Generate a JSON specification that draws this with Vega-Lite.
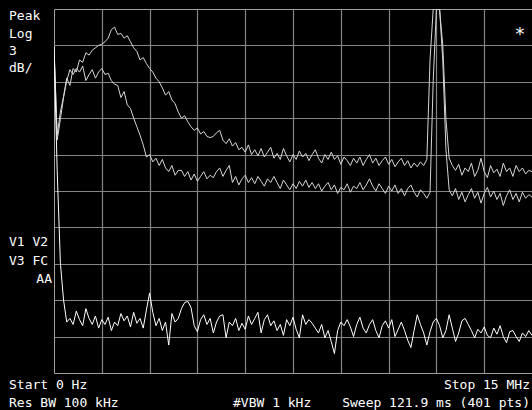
{
  "$schema": "https://vega.github.io/schema/vega-lite/v6.json",
  "autosize": {"type": "none"},
  "width": 478,
  "height": 364,
  "padding": {"left": 54, "top": 9, "right": 0, "bottom": 37},
  "background": "#000000",
  "config": {
    "view": {"stroke": "#a0a0a0", "strokeWidth": 1},
    "text": {"font": "DejaVu Sans Mono", "fontSize": 13, "fill": "#ffffff", "baseline": "middle"}
  },
  "layer": [
    {
      "data": {"values": [
        {"f":0.0,"a":-3.1,"b":-3.1,"c":-3.1},
        {"f":0.1,"a":-10.4,"b":-10.8,"c":-13.3},
        {"f":0.2,"a":-8.5,"b":-9.1,"c":-20.9},
        {"f":0.3,"a":-7.2,"b":-7.3,"c":-24.0},
        {"f":0.4,"a":-5.7,"b":-5.9,"c":-25.8},
        {"f":0.5,"a":-6.3,"b":-5.0,"c":-25.5},
        {"f":0.6,"a":-4.9,"b":-5.4,"c":-26.0},
        {"f":0.7,"a":-5.2,"b":-4.9,"c":-24.9},
        {"f":0.8,"a":-4.2,"b":-5.2,"c":-25.6},
        {"f":0.9,"a":-4.4,"b":-4.7,"c":-26.1},
        {"f":1.0,"a":-3.6,"b":-5.9,"c":-24.7},
        {"f":1.1,"a":-3.8,"b":-5.4,"c":-25.5},
        {"f":1.2,"a":-3.4,"b":-5.0,"c":-26.0},
        {"f":1.3,"a":-3.2,"b":-5.7,"c":-25.3},
        {"f":1.4,"a":-3.0,"b":-5.2,"c":-26.3},
        {"f":1.5,"a":-2.9,"b":-4.9,"c":-25.6},
        {"f":1.6,"a":-2.7,"b":-5.4,"c":-26.0},
        {"f":1.7,"a":-2.4,"b":-5.3,"c":-25.4},
        {"f":1.8,"a":-1.7,"b":-5.9,"c":-26.5},
        {"f":1.9,"a":-1.5,"b":-6.2,"c":-25.8},
        {"f":2.0,"a":-2.1,"b":-6.3,"c":-26.1},
        {"f":2.1,"a":-2.0,"b":-7.3,"c":-25.1},
        {"f":2.2,"a":-2.4,"b":-6.8,"c":-25.7},
        {"f":2.3,"a":-2.2,"b":-7.9,"c":-25.3},
        {"f":2.4,"a":-2.7,"b":-8.2,"c":-26.2},
        {"f":2.5,"a":-3.2,"b":-9.0,"c":-25.0},
        {"f":2.6,"a":-3.5,"b":-9.7,"c":-25.9},
        {"f":2.7,"a":-4.2,"b":-10.4,"c":-25.5},
        {"f":2.8,"a":-4.0,"b":-11.2,"c":-26.3},
        {"f":2.9,"a":-4.5,"b":-12.2,"c":-24.8},
        {"f":3.0,"a":-4.9,"b":-12.0,"c":-23.4},
        {"f":3.1,"a":-5.2,"b":-12.6,"c":-25.0},
        {"f":3.2,"a":-5.7,"b":-12.3,"c":-26.1},
        {"f":3.3,"a":-6.0,"b":-12.9,"c":-25.5},
        {"f":3.4,"a":-6.5,"b":-12.4,"c":-26.5},
        {"f":3.5,"a":-7.1,"b":-13.1,"c":-25.8},
        {"f":3.6,"a":-6.8,"b":-13.4,"c":-27.7},
        {"f":3.7,"a":-7.5,"b":-12.9,"c":-25.1},
        {"f":3.8,"a":-7.8,"b":-13.7,"c":-25.8},
        {"f":3.9,"a":-8.5,"b":-13.3,"c":-25.5},
        {"f":4.0,"a":-9.0,"b":-13.3,"c":-24.7},
        {"f":4.1,"a":-8.8,"b":-13.8,"c":-24.2},
        {"f":4.2,"a":-9.3,"b":-13.4,"c":-24.1},
        {"f":4.3,"a":-9.7,"b":-14.1,"c":-24.6},
        {"f":4.4,"a":-10.0,"b":-13.6,"c":-26.1},
        {"f":4.5,"a":-9.8,"b":-14.2,"c":-26.6},
        {"f":4.6,"a":-10.3,"b":-13.8,"c":-25.6},
        {"f":4.7,"a":-10.1,"b":-13.4,"c":-25.2},
        {"f":4.8,"a":-10.5,"b":-14.0,"c":-26.0},
        {"f":4.9,"a":-10.6,"b":-13.7,"c":-25.5},
        {"f":5.0,"a":-10.5,"b":-13.9,"c":-26.7},
        {"f":5.1,"a":-10.2,"b":-13.4,"c":-25.8},
        {"f":5.2,"a":-10.0,"b":-13.1,"c":-25.3},
        {"f":5.3,"a":-10.8,"b":-13.8,"c":-25.2},
        {"f":5.4,"a":-11.1,"b":-13.3,"c":-27.1},
        {"f":5.5,"a":-10.7,"b":-12.9,"c":-25.8},
        {"f":5.6,"a":-11.3,"b":-14.3,"c":-26.1},
        {"f":5.7,"a":-11.0,"b":-13.8,"c":-25.5},
        {"f":5.8,"a":-11.6,"b":-14.5,"c":-26.5},
        {"f":5.9,"a":-11.4,"b":-14.0,"c":-25.9},
        {"f":6.0,"a":-11.8,"b":-13.7,"c":-26.4},
        {"f":6.1,"a":-11.2,"b":-14.3,"c":-25.3},
        {"f":6.2,"a":-12.0,"b":-13.9,"c":-26.0},
        {"f":6.3,"a":-11.6,"b":-14.4,"c":-25.5},
        {"f":6.4,"a":-12.1,"b":-13.8,"c":-25.0},
        {"f":6.5,"a":-11.5,"b":-14.2,"c":-26.7},
        {"f":6.6,"a":-12.2,"b":-14.6,"c":-25.6},
        {"f":6.7,"a":-11.8,"b":-14.0,"c":-25.2},
        {"f":6.8,"a":-11.4,"b":-14.3,"c":-26.1},
        {"f":6.9,"a":-12.3,"b":-13.8,"c":-25.7},
        {"f":7.0,"a":-11.9,"b":-14.3,"c":-26.5},
        {"f":7.1,"a":-12.4,"b":-14.8,"c":-26.0},
        {"f":7.2,"a":-11.5,"b":-14.1,"c":-26.9},
        {"f":7.3,"a":-12.1,"b":-14.5,"c":-25.6},
        {"f":7.4,"a":-12.6,"b":-14.9,"c":-26.1},
        {"f":7.5,"a":-12.0,"b":-14.4,"c":-25.4},
        {"f":7.6,"a":-12.4,"b":-14.8,"c":-26.4},
        {"f":7.7,"a":-11.7,"b":-14.2,"c":-27.1},
        {"f":7.8,"a":-12.2,"b":-14.6,"c":-25.2},
        {"f":7.9,"a":-11.9,"b":-14.1,"c":-26.0},
        {"f":8.0,"a":-12.5,"b":-14.7,"c":-25.6},
        {"f":8.1,"a":-12.0,"b":-14.3,"c":-25.9},
        {"f":8.2,"a":-11.6,"b":-14.8,"c":-26.3},
        {"f":8.3,"a":-12.3,"b":-14.4,"c":-26.7},
        {"f":8.4,"a":-12.7,"b":-15.0,"c":-26.0},
        {"f":8.5,"a":-12.0,"b":-14.6,"c":-27.1},
        {"f":8.6,"a":-12.4,"b":-14.3,"c":-26.5},
        {"f":8.7,"a":-11.8,"b":-14.9,"c":-27.4},
        {"f":8.8,"a":-12.4,"b":-14.5,"c":-28.4},
        {"f":8.9,"a":-12.1,"b":-15.2,"c":-26.5},
        {"f":9.0,"a":-12.8,"b":-14.7,"c":-25.8},
        {"f":9.1,"a":-12.2,"b":-14.9,"c":-26.1},
        {"f":9.2,"a":-12.5,"b":-14.4,"c":-25.6},
        {"f":9.3,"a":-12.9,"b":-15.1,"c":-26.2},
        {"f":9.4,"a":-12.3,"b":-14.6,"c":-27.0},
        {"f":9.5,"a":-12.7,"b":-14.8,"c":-26.0},
        {"f":9.6,"a":-12.2,"b":-14.3,"c":-25.4},
        {"f":9.7,"a":-12.9,"b":-14.9,"c":-26.3},
        {"f":9.8,"a":-12.4,"b":-14.5,"c":-26.7},
        {"f":9.9,"a":-12.0,"b":-14.0,"c":-26.0},
        {"f":10.0,"a":-12.7,"b":-14.6,"c":-25.6},
        {"f":10.1,"a":-12.3,"b":-15.0,"c":-26.5},
        {"f":10.2,"a":-12.9,"b":-14.4,"c":-27.1},
        {"f":10.3,"a":-12.5,"b":-14.8,"c":-26.1},
        {"f":10.4,"a":-12.2,"b":-15.2,"c":-25.7},
        {"f":10.5,"a":-12.8,"b":-14.6,"c":-26.3},
        {"f":10.6,"a":-12.4,"b":-15.0,"c":-25.6},
        {"f":10.7,"a":-13.0,"b":-14.5,"c":-27.0},
        {"f":10.8,"a":-12.6,"b":-15.2,"c":-26.4},
        {"f":10.9,"a":-12.3,"b":-14.8,"c":-25.8},
        {"f":11.0,"a":-12.9,"b":-15.4,"c":-26.5},
        {"f":11.1,"a":-12.5,"b":-14.8,"c":-27.3},
        {"f":11.2,"a":-13.1,"b":-14.5,"c":-27.9},
        {"f":11.3,"a":-12.7,"b":-15.1,"c":-26.5},
        {"f":11.4,"a":-13.0,"b":-15.5,"c":-25.2},
        {"f":11.5,"a":-12.6,"b":-14.9,"c":-26.0},
        {"f":11.6,"a":-12.9,"b":-15.2,"c":-26.7},
        {"f":11.7,"a":-12.4,"b":-15.6,"c":-27.7},
        {"f":11.8,"a":-4.2,"b":-15.1,"c":-26.6},
        {"f":11.9,"a":0,"b":-5.9,"c":-25.8},
        {"f":12.0,"a":0,"b":0,"c":-25.5},
        {"f":12.1,"a":0,"b":0,"c":-26.1},
        {"f":12.2,"a":-3.0,"b":-4.2,"c":-27.1},
        {"f":12.3,"a":-9.1,"b":-11.6,"c":-26.5},
        {"f":12.4,"a":-12.3,"b":-14.9,"c":-25.2},
        {"f":12.5,"a":-12.9,"b":-15.4,"c":-26.3},
        {"f":12.6,"a":-13.3,"b":-14.8,"c":-27.4},
        {"f":12.7,"a":-12.8,"b":-15.7,"c":-26.7},
        {"f":12.8,"a":-13.7,"b":-15.1,"c":-25.7},
        {"f":12.9,"a":-13.1,"b":-15.9,"c":-25.5},
        {"f":13.0,"a":-13.4,"b":-15.3,"c":-26.0},
        {"f":13.1,"a":-12.7,"b":-14.8,"c":-26.5},
        {"f":13.2,"a":-13.8,"b":-15.6,"c":-27.1},
        {"f":13.3,"a":-13.3,"b":-15.1,"c":-26.4},
        {"f":13.4,"a":-12.3,"b":-16.0,"c":-26.7},
        {"f":13.5,"a":-13.4,"b":-15.2,"c":-26.2},
        {"f":13.6,"a":-13.9,"b":-14.7,"c":-26.9},
        {"f":13.7,"a":-12.9,"b":-15.5,"c":-27.1},
        {"f":13.8,"a":-13.5,"b":-15.0,"c":-26.3},
        {"f":13.9,"a":-13.2,"b":-15.7,"c":-26.8},
        {"f":14.0,"a":-13.8,"b":-15.2,"c":-26.1},
        {"f":14.1,"a":-12.7,"b":-16.2,"c":-27.0},
        {"f":14.2,"a":-13.4,"b":-15.4,"c":-27.5},
        {"f":14.3,"a":-13.1,"b":-14.9,"c":-26.6},
        {"f":14.4,"a":-13.8,"b":-15.7,"c":-26.5},
        {"f":14.5,"a":-12.9,"b":-15.2,"c":-27.0},
        {"f":14.6,"a":-13.4,"b":-15.9,"c":-27.4},
        {"f":14.7,"a":-13.1,"b":-15.1,"c":-26.7},
        {"f":14.8,"a":-13.6,"b":-15.6,"c":-27.0},
        {"f":14.9,"a":-13.3,"b":-15.3,"c":-26.5},
        {"f":15.0,"a":-13.4,"b":-15.5,"c":-26.9}
      ]},
      "transform": [{"fold": ["a", "b", "c"], "as": ["trace", "db"]}],
      "mark": {"type": "line", "strokeWidth": 1, "clip": true, "interpolate": "linear"},
      "encoding": {
        "x": {"field": "f", "type": "quantitative",
              "scale": {"domain": [0, 15], "nice": false, "zero": false},
              "axis": {"values": [1.5, 3, 4.5, 6, 7.5, 9, 10.5, 12, 13.5], "grid": true, "gridColor": "#858585", "gridWidth": 1.2,
                       "labels": false, "ticks": false, "domain": false, "title": null}},
        "y": {"field": "db", "type": "quantitative",
              "scale": {"domain": [-30, 0], "nice": false, "zero": false},
              "axis": {"values": [-27, -24, -21, -18, -15, -12, -9, -6, -3], "grid": true, "gridColor": "#858585", "gridWidth": 1.2,
                       "labels": false, "ticks": false, "domain": false, "title": null}},
        "detail": {"field": "trace"},
        "color": {"field": "trace", "type": "nominal",
                  "scale": {"domain": ["a", "b", "c"], "range": ["#d6d6d6", "#d6d6d6", "#ffffff"]},
                  "legend": null}
      }
    },
    {"data": {"values": [{}]}, "mark": {"type": "text", "align": "left", "clip": false},
     "encoding": {"x": {"datum": -1.412, "type": "quantitative"}, "y": {"datum": -0.58, "type": "quantitative"}, "text": {"value": "Peak"}}},
    {"data": {"values": [{}]}, "mark": {"type": "text", "align": "left", "clip": false},
     "encoding": {"x": {"datum": -1.412, "type": "quantitative"}, "y": {"datum": -2.06, "type": "quantitative"}, "text": {"value": "Log"}}},
    {"data": {"values": [{}]}, "mark": {"type": "text", "align": "left", "clip": false},
     "encoding": {"x": {"datum": -1.412, "type": "quantitative"}, "y": {"datum": -3.46, "type": "quantitative"}, "text": {"value": "3"}}},
    {"data": {"values": [{}]}, "mark": {"type": "text", "align": "left", "clip": false},
     "encoding": {"x": {"datum": -1.412, "type": "quantitative"}, "y": {"datum": -4.86, "type": "quantitative"}, "text": {"value": "dB/"}}},
    {"data": {"values": [{}]}, "mark": {"type": "text", "align": "left", "clip": false},
     "encoding": {"x": {"datum": -1.412, "type": "quantitative"}, "y": {"datum": -19.2, "type": "quantitative"}, "text": {"value": "V1 V2"}}},
    {"data": {"values": [{}]}, "mark": {"type": "text", "align": "left", "clip": false},
     "encoding": {"x": {"datum": -1.412, "type": "quantitative"}, "y": {"datum": -20.77, "type": "quantitative"}, "text": {"value": "V3 FC"}}},
    {"data": {"values": [{}]}, "mark": {"type": "text", "align": "right", "clip": false},
     "encoding": {"x": {"datum": -0.063, "type": "quantitative"}, "y": {"datum": -22.25, "type": "quantitative"}, "text": {"value": "AA"}}},
    {"data": {"values": [{}]}, "mark": {"type": "text", "align": "left", "clip": false},
     "encoding": {"x": {"datum": -1.412, "type": "quantitative"}, "y": {"datum": -30.99, "type": "quantitative"}, "text": {"value": "Start 0 Hz"}}},
    {"data": {"values": [{}]}, "mark": {"type": "text", "align": "left", "clip": false},
     "encoding": {"x": {"datum": -1.412, "type": "quantitative"}, "y": {"datum": -32.47, "type": "quantitative"}, "text": {"value": "Res BW 100 kHz"}}},
    {"data": {"values": [{}]}, "mark": {"type": "text", "align": "right", "clip": false},
     "encoding": {"x": {"datum": 14.937, "type": "quantitative"}, "y": {"datum": -30.99, "type": "quantitative"}, "text": {"value": "Stop 15 MHz"}}},
    {"data": {"values": [{}]}, "mark": {"type": "text", "align": "left", "clip": false},
     "encoding": {"x": {"datum": 5.617, "type": "quantitative"}, "y": {"datum": -32.47, "type": "quantitative"}, "text": {"value": "#VBW 1 kHz"}}},
    {"data": {"values": [{}]}, "mark": {"type": "text", "align": "right", "clip": false},
     "encoding": {"x": {"datum": 14.937, "type": "quantitative"}, "y": {"datum": -32.47, "type": "quantitative"}, "text": {"value": "Sweep 121.9 ms (401 pts)"}}},
    {"data": {"values": [{}]}, "mark": {"type": "text", "align": "center", "baseline": "middle", "fontSize": 18, "dy": 3, "clip": false},
     "encoding": {"x": {"datum": 14.623, "type": "quantitative"}, "y": {"datum": -1.9, "type": "quantitative"}, "text": {"value": "*"}}}
  ]
}
